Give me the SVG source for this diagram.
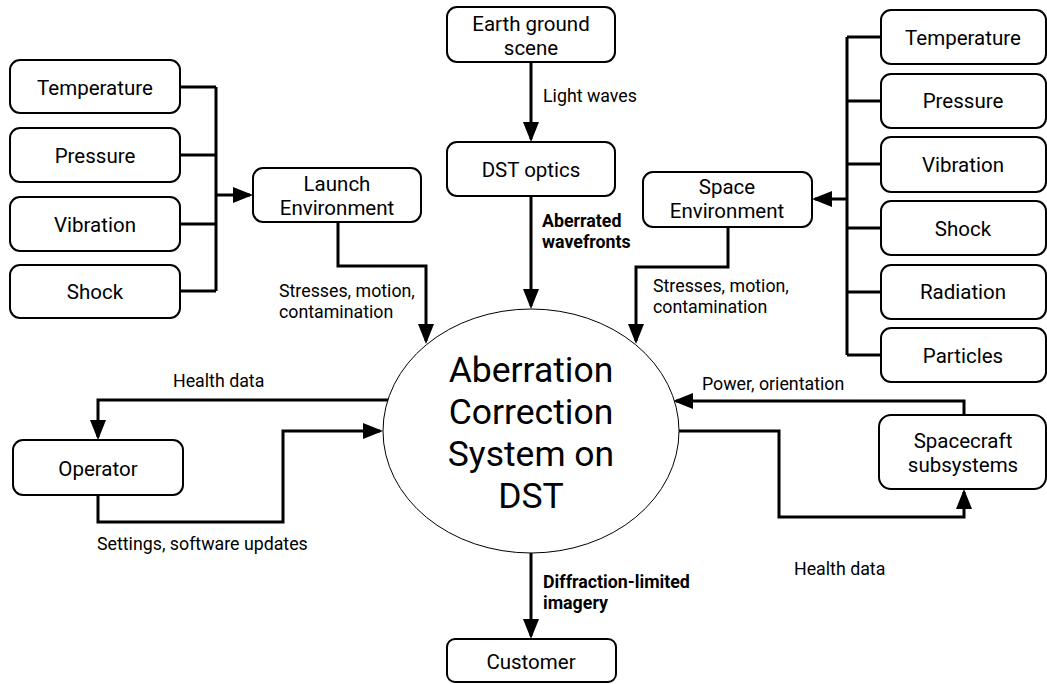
<svg xmlns="http://www.w3.org/2000/svg" width="1047" height="684" viewBox="0 0 1047 684">
  <style>
    .box { fill: #fff; stroke: #000; stroke-width: 2; }
    .nt { font-family: Roboto, "Liberation Sans", sans-serif; font-size: 20.5px; fill: #000; text-anchor: middle; }
    .lbl { font-family: Roboto, "Liberation Sans", sans-serif; font-size: 17.8px; fill: #000; }
    .bold { font-weight: bold; }
    .big { font-family: Roboto, "Liberation Sans", sans-serif; font-size: 35.5px; fill: #000; text-anchor: middle; }
    .wire { fill: none; stroke: #000; stroke-width: 3; }
    .arr { fill: none; stroke: #000; stroke-width: 3; marker-end: url(#head); }
  </style>
  <defs>
    <marker id="head" markerUnits="userSpaceOnUse" markerWidth="20" markerHeight="16" refX="17" refY="8" orient="auto">
      <path d="M0,0 L20,8 L0,16 Z" fill="#000"/>
    </marker>
  </defs>
  <rect width="1047" height="684" fill="#fff"/>

  <!-- connectors -->
  <g id="connectors">
    <!-- launch environment factors bus -->
    <path class="wire" d="M180,87 H216 M180,155 H216 M180,224 H216 M180,291 H216 M216,87 V291"/>
    <path class="arr" d="M216,195 H250"/>
    <!-- space environment factors bus -->
    <path class="wire" d="M881,37 H847 M881,101 H847 M881,164 H847 M881,228 H847 M881,292 H847 M881,355 H847 M847,37 V355"/>
    <path class="arr" d="M847,199 H815"/>
    <!-- optical path -->
    <path class="arr" d="M531,62 V139"/>
    <path class="arr" d="M531,196 V306"/>
    <!-- environments into system -->
    <path class="arr" d="M338,222 V266 H426 V341"/>
    <path class="arr" d="M728,227 V267 H636 V341"/>
    <!-- operator loop -->
    <path class="arr" d="M388,400 H98 V437"/>
    <path class="arr" d="M98,495 V522 H283 V431 H380"/>
    <!-- spacecraft loop -->
    <path class="arr" d="M964,415 V401 H676"/>
    <path class="arr" d="M679,431 H779 V517 H964 V492"/>
    <!-- output imagery -->
    <path class="arr" d="M531,552 V636"/>

    <text class="lbl" x="543" y="102">Light waves</text>
    <text class="lbl bold" x="542" y="227">Aberrated</text>
    <text class="lbl bold" x="542" y="248">wavefronts</text>
    <text class="lbl" x="279" y="297">Stresses, motion,</text>
    <text class="lbl" x="279" y="318">contamination</text>
    <text class="lbl" x="653" y="292">Stresses, motion,</text>
    <text class="lbl" x="653" y="313">contamination</text>
    <text class="lbl" x="173" y="387">Health data</text>
    <text class="lbl" x="97" y="550">Settings, software updates</text>
    <text class="lbl" x="702" y="390">Power, orientation</text>
    <text class="lbl" x="794" y="575">Health data</text>
    <text class="lbl bold" x="543" y="588">Diffraction-limited</text>
    <text class="lbl bold" x="543" y="609">imagery</text>
  </g>

  <!-- central system -->
  <g id="system">
    <ellipse cx="531" cy="431" rx="148" ry="122" fill="#fff" stroke="#000" stroke-width="1"/>
    <text class="big" x="531" y="382">Aberration</text>
    <text class="big" x="531" y="424">Correction</text>
    <text class="big" x="531" y="466">System on</text>
    <text class="big" x="531" y="508">DST</text>
  </g>

  <!-- launch factors -->
  <g id="launch-temperature"><rect class="box" x="10" y="60" width="170" height="53" rx="10"/><text class="nt" x="95" y="95">Temperature</text></g>
  <g id="launch-pressure"><rect class="box" x="10" y="128" width="170" height="54" rx="10"/><text class="nt" x="95" y="163">Pressure</text></g>
  <g id="launch-vibration"><rect class="box" x="10" y="197" width="170" height="54" rx="10"/><text class="nt" x="95" y="232">Vibration</text></g>
  <g id="launch-shock"><rect class="box" x="10" y="265" width="170" height="53" rx="10"/><text class="nt" x="95" y="299">Shock</text></g>

  <g id="launch-environment"><rect class="box" x="253" y="168" width="168" height="54" rx="10"/><text class="nt" x="337" y="191">Launch</text><text class="nt" x="337" y="215">Environment</text></g>

  <g id="earth-scene"><rect class="box" x="447" y="7" width="168" height="55" rx="10"/><text class="nt" x="531" y="31">Earth ground</text><text class="nt" x="531" y="55">scene</text></g>
  <g id="dst-optics"><rect class="box" x="447" y="142" width="168" height="54" rx="10"/><text class="nt" x="531" y="177">DST optics</text></g>

  <g id="space-environment"><rect class="box" x="643" y="172" width="169" height="55" rx="10"/><text class="nt" x="727" y="194">Space</text><text class="nt" x="727" y="218">Environment</text></g>

  <!-- space factors -->
  <g id="space-temperature"><rect class="box" x="881" y="10" width="165" height="54" rx="10"/><text class="nt" x="963" y="45">Temperature</text></g>
  <g id="space-pressure"><rect class="box" x="881" y="74" width="165" height="54" rx="10"/><text class="nt" x="963" y="108">Pressure</text></g>
  <g id="space-vibration"><rect class="box" x="881" y="137" width="165" height="55" rx="10"/><text class="nt" x="963" y="172">Vibration</text></g>
  <g id="space-shock"><rect class="box" x="881" y="201" width="165" height="54" rx="10"/><text class="nt" x="963" y="236">Shock</text></g>
  <g id="space-radiation"><rect class="box" x="881" y="265" width="165" height="54" rx="10"/><text class="nt" x="963" y="299">Radiation</text></g>
  <g id="space-particles"><rect class="box" x="881" y="328" width="165" height="54" rx="10"/><text class="nt" x="963" y="363">Particles</text></g>

  <g id="operator"><rect class="box" x="13" y="440" width="170" height="55" rx="10"/><text class="nt" x="98" y="476">Operator</text></g>
  <g id="spacecraft"><rect class="box" x="879" y="415" width="167" height="74" rx="12"/><text class="nt" x="963" y="448">Spacecraft</text><text class="nt" x="963" y="472">subsystems</text></g>
  <g id="customer"><rect class="box" x="447" y="639" width="169" height="43" rx="8"/><text class="nt" x="531" y="669">Customer</text></g>
</svg>
